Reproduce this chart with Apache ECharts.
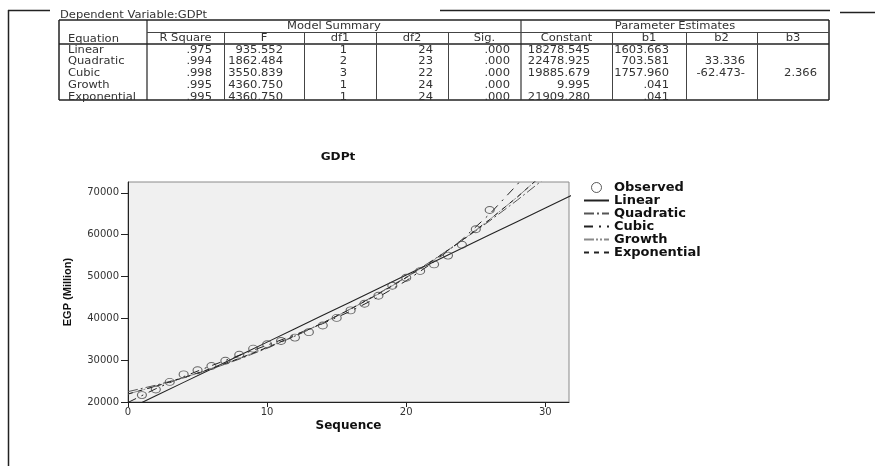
<!DOCTYPE html>
<html>
<head>
<meta charset="utf-8">
<script src="https://cdn.jsdelivr.net/npm/echarts@6/dist/echarts.min.js"></script>
<style>
  html, body { margin: 0; padding: 0; background: #fff; }
  #chart { width: 875px; height: 466px; }
</style>
</head>
<body>
<div id="chart"></div>
<script>
// observed GDPt by sequence
const seq = [1, 2, 3, 4, 5, 6, 7, 8, 9, 10, 11, 12, 13, 14, 15, 16, 17, 18, 19, 20, 21, 22, 23, 24, 25, 26];
const observed = [21650, 23000, 24800, 26600, 27600, 28600, 29850, 31300, 32750, 33800, 34600, 35400, 36700,
  38300, 40100, 41900, 43500, 45400, 47800, 49700, 51300, 52900, 55000, 57600, 61300, 65900];

// fitted curves, read along the sequence axis
const fitT = [0, 2, 4, 6, 8, 10, 12, 14, 16, 18, 20, 22, 24, 26, 28, 30, 32];
const linear = [18279, 21486, 24693, 27900, 31108, 34315, 37522, 40730, 43937, 47144, 50352, 53559, 56767, 59974, 63181, 66389, 69596];
const quadratic = [22479, 24019, 25826, 27900, 30242, 32849, 35722, 38863, 42270, 45944, 49885, 54093, 58567, 63307, 68314, 73588, 79130];
const cubic = [19886, 23171, 26069, 28696, 31163, 33585, 36074, 38744, 41711, 45086, 48984, 53517, 58801, 64945, 72068, 80281, 89698];
const growth = [21909, 23782, 25814, 28020, 30414, 33013, 35834, 38896, 42220, 45828, 49744, 53994, 58609, 63618, 69054, 74957, 81364];
const exponential = [21909, 23782, 25814, 28020, 30414, 33013, 35834, 38896, 42220, 45828, 49744, 53994, 58609, 63618, 69054, 74957, 81364];

const xTicks = [0, 10, 20, 30];
const yTicks = [20000, 30000, 40000, 50000, 60000, 70000];

// model summary table
const eqNames = ['Linear', 'Quadratic', 'Cubic', 'Growth', 'Exponential'];
const rSquare = ['.975', '.994', '.998', '.995', '.995'];
const fStat = ['935.552', '1862.484', '3550.839', '4360.750', '4360.750'];
const df1 = ['1', '2', '3', '1', '1'];
const df2 = ['24', '23', '22', '24', '24'];
const sig = ['.000', '.000', '.000', '.000', '.000'];
const constant = ['18278.545', '22478.925', '19885.679', '9.995', '21909.280'];
const b1 = ['1603.663', '703.581', '1757.960', '.041', '.041'];
const b2 = ['', '33.336', '-62.473-', '', ''];
const b3 = ['', '', '2.366', '', ''];
const colHeads = ['R Square', 'F', 'df1', 'df2', 'Sig.', 'Constant', 'b1', 'b2', 'b3'];

const pairs = (xs, ys) => xs.map((x, i) => [x, ys[i]]);

// table layout
const tblLeft = 59, tblRight = 829, tblTop = 20, tblMid = 32, tblHead = 44, tblBottom = 100;
const colEdges = [147, 224, 304, 376, 448, 521, 612, 686, 757, 829];
const numRight = [212, 283, 347, 433, 510, 590, 669, 745, 817];
const rowY = i => 50 + 11.85 * i;

let g = [];
function line(x1, y1, x2, y2, w, c) {
  g.push({ type: 'line', silent: true, shape: { x1, y1, x2, y2 }, style: { stroke: c || '#333', lineWidth: w || 1 } });
}
function txt(text, x, y, align, opts) {
  opts = opts || {};
  g.push({
    type: 'text', silent: true, x: x, y: y, scaleX: opts.sx || 1.15,
    style: {
      text: text, fill: opts.color || '#333', fontFamily: 'DejaVu Sans', fontSize: opts.size || 10,
      fontWeight: opts.weight || 'normal',
      textAlign: align, align: align, textVerticalAlign: 'middle', verticalAlign: 'middle'
    }
  });
}

// page frame
line(8, 10.5, 50, 10.5, 1.5, '#222');
line(440, 10.5, 830, 10.5, 1.5, '#222');
line(840, 12.5, 875, 12.5, 1.5, '#222');
line(8.5, 10, 8.5, 466, 1.5, '#222');

// table grid
line(tblLeft, tblTop, tblRight, tblTop, 1.5, '#222');
line(tblLeft, tblBottom, tblRight, tblBottom, 1.5, '#222');
line(tblLeft, tblTop, tblLeft, tblBottom, 1.5, '#222');
line(tblRight, tblTop, tblRight, tblBottom, 1.5, '#222');
line(colEdges[0], tblTop, colEdges[0], tblBottom, 1.2, '#222');
line(colEdges[5], tblTop, colEdges[5], tblBottom, 1.2, '#333');
line(colEdges[0], tblMid + 0.5, tblRight, tblMid + 0.5, 1, '#444');
line(tblLeft, tblHead, tblRight, tblHead, 1.5, '#222');
colEdges.slice(1, -1).forEach(x => { if (x !== colEdges[5]) line(x + 0.5, tblMid, x + 0.5, tblBottom, 1, '#444'); });

txt('Dependent Variable:GDPt', 60, 15, 'left');
txt('Model Summary', (colEdges[0] + colEdges[5]) / 2, 26.5, 'center');
txt('Parameter Estimates', (colEdges[5] + colEdges[9]) / 2, 26.5, 'center');
txt('Equation', 68, 39.5, 'left');
colHeads.forEach((h, i) => txt(h, (colEdges[i] + colEdges[i + 1]) / 2, 38.5, 'center'));
const cols = [rSquare, fStat, df1, df2, sig, constant, b1, b2, b3];
eqNames.forEach((n, r) => {
  txt(n, 68, rowY(r), 'left');
  cols.forEach((c, j) => { if (c[r]) txt(c[r], numRight[j], rowY(r), 'right'); });
});

// chart title
txt('GDPt', 338, 157, 'center', { weight: 'bold', size: 11, sx: 1.1, color: '#111' });

const chart = echarts.init(document.getElementById('chart'), null, { renderer: 'canvas' });

const fitLine = (name, xs, ys, color, dash, width) => ({
  name: name, type: 'line', symbol: 'none', smooth: false, clip: true,
  data: pairs(xs, ys),
  lineStyle: { color: color, width: width || 1, type: dash },
  itemStyle: { color: color },
  emphasis: { disabled: true }, z: 2
});

// legend entries for the fit lines show only the line
const lineEntry = name => ({ name: name, itemStyle: { opacity: 0 } });

const option = {
  animation: false,
  backgroundColor: '#fff',
  textStyle: { fontFamily: 'DejaVu Sans' },
  grid: {
    left: 128, top: 182, width: 441, height: 220,
    show: true, backgroundColor: '#f0f0f0', borderColor: '#8a8a8a', borderWidth: 1
  },
  legend: {
    orient: 'vertical', left: 578, top: 176,
    itemWidth: 25, itemHeight: 10, itemGap: 0,
    textStyle: { fontFamily: 'DejaVu Sans', fontWeight: 'bold', fontSize: 13, color: '#111' },
    data: [
      { name: 'Observed', icon: 'circle', itemStyle: { color: 'rgba(0,0,0,0)', borderColor: '#333', borderWidth: 1 } },
      lineEntry('Linear'), lineEntry('Quadratic'), lineEntry('Cubic'), lineEntry('Growth'), lineEntry('Exponential')
    ]
  },
  xAxis: {
    type: 'value', min: 0, max: 31.7,
    name: 'Sequence', nameLocation: 'middle', nameGap: 18,
    nameTextStyle: { fontFamily: 'DejaVu Sans', fontWeight: 'bold', fontSize: 12, color: '#111' },
    axisLine: { show: true, lineStyle: { color: '#222', width: 1 } },
    axisTick: { show: true, length: 5, customValues: xTicks, lineStyle: { color: '#222' } },
    axisLabel: { customValues: xTicks, margin: 5, fontFamily: 'DejaVu Sans', fontSize: 10, color: '#333', formatter: v => String(v) },
    splitLine: { show: false }
  },
  yAxis: {
    type: 'value', min: 20000, max: 72600,
    name: 'EGP (Million)', nameLocation: 'middle', nameRotate: 90, nameGap: 55,
    nameTextStyle: { fontFamily: 'Liberation Sans', fontWeight: 'bold', fontSize: 11, color: '#111' },
    axisLine: { show: true, lineStyle: { color: '#222', width: 1 } },
    axisTick: { show: true, length: 7, customValues: yTicks, lineStyle: { color: '#222' } },
    axisLabel: { customValues: yTicks, margin: 9, fontFamily: 'DejaVu Sans', fontSize: 10, color: '#333', formatter: v => String(v) },
    splitLine: { show: false }
  },
  series: [
    {
      name: 'Observed', type: 'scatter', data: pairs(seq, observed),
      symbol: 'circle', symbolSize: [9, 7],
      itemStyle: { color: 'rgba(0,0,0,0)', borderColor: '#444', borderWidth: 1 },
      emphasis: { disabled: true }, z: 3
    },
    fitLine('Linear', fitT, linear, '#222', 'solid', 1.1),
    fitLine('Quadratic', fitT, quadratic, '#555', [10, 3, 2, 3]),
    fitLine('Cubic', fitT, cubic, '#222', [9, 6, 2, 6]),
    fitLine('Growth', fitT, growth, '#8a8a8a', [10, 2, 2, 2, 2, 2]),
    fitLine('Exponential', fitT, exponential, '#222', [5, 5])
  ],
  graphic: g
};

chart.setOption(option);
</script>
</body>
</html>
